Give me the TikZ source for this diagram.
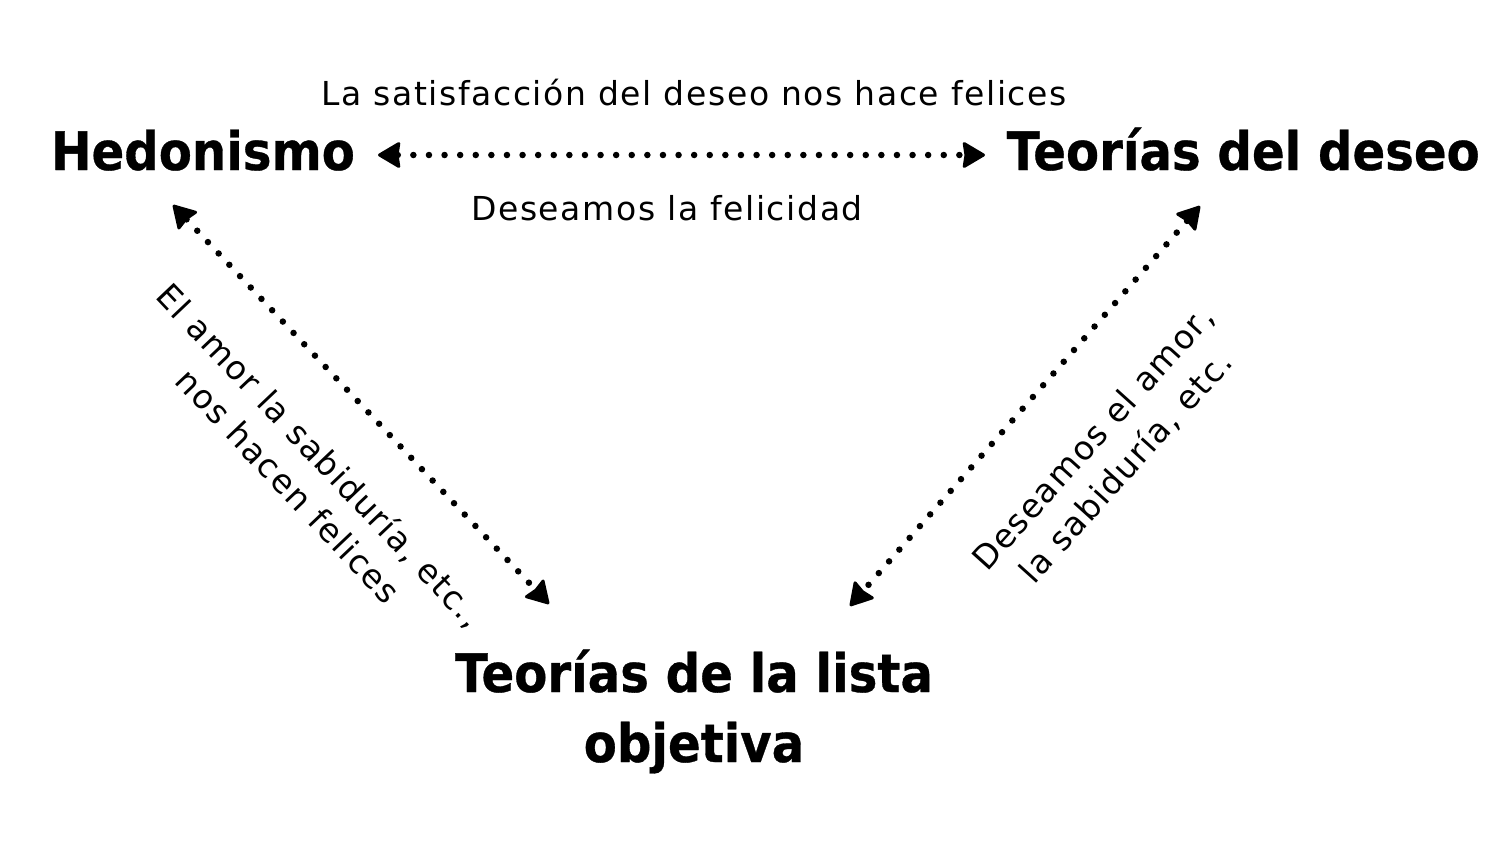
\documentclass[tikz,border=0pt]{standalone}
\usepackage{fontspec}
\setmainfont{DejaVu Sans}
\newfontfamily\titlefont[FakeStretch=0.91,BoldFeatures={FakeBold=0.6}]{DejaVu Sans}
\newfontfamily\labfont[LetterSpace=4.8]{DejaVu Sans}
\usetikzlibrary{arrows.meta}
\begin{document}
\begin{tikzpicture}[x=1pt,y=-1pt,
  title/.style={font=\titlefont\fontsize{53}{70}\selectfont\bfseries, inner sep=0pt, align=center},
  lab/.style={font=\labfont\fontsize{33}{44}\selectfont, inner sep=0pt, align=center},
  link/.style={line width=6.5pt, line cap=round, dash pattern=on 0pt off 15.6pt,
    {Stealth[inset=2pt,length=24pt,width=28pt,round,line width=3pt]}-{Stealth[inset=2pt,length=24pt,width=28pt,round,line width=3pt]}}
]
\useasboundingbox (0,0) rectangle (1500,844);
\fill[white] (0,0) rectangle (1500,844);

\node[title, anchor=base west] (hed) at (51,170) {Hedonismo};
\node[title, anchor=base east] (des) at (1480,170) {Teorías del deseo};
\node[title, anchor=base] (obj) at (694,762) {Teorías de la lista\\objetiva};

\node[lab, anchor=base] (l1) at (694,105) {La satisfacción del deseo nos hace felices};
\node[lab, anchor=base] (l2) at (667,220) {Deseamos la felicidad};
\node[lab, rotate=-46.5] (l3) at (305,470) {El amor la sabiduría, etc.,\\nos hacen felices};
\node[lab, rotate=48] (l4) at (1110,453) {Deseamos el amor,\\la sabiduría, etc.};

\coordinate (hE) at (378,155);
\coordinate (dW) at (985,155);
\coordinate (hS) at (173,205);
\coordinate (oNW) at (549,604);
\coordinate (dS) at (1200,206);
\coordinate (oNE) at (850,606);

\draw[link] (hE) -- (dW);
\draw[link] (hS) -- (oNW);
\draw[link] (dS) -- (oNE);
\end{tikzpicture}
\end{document}
